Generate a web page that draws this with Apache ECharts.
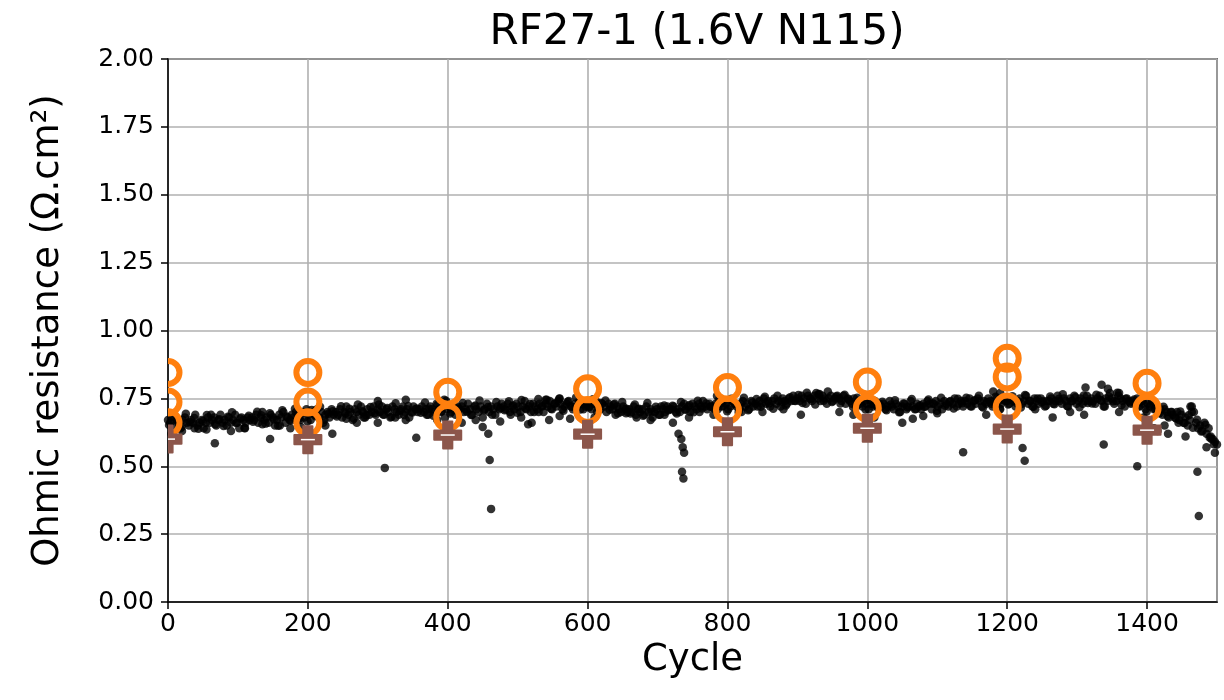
<!DOCTYPE html>
<html>
<head>
<meta charset="utf-8">
<script src="https://cdn.jsdelivr.net/npm/echarts@6/dist/echarts.min.js"></script>
<style>html,body{margin:0;padding:0;background:#fff}#c{width:1224px;height:700px}</style>
</head>
<body>
<div id="c"></div>
<script>
// ---------- DATA ----------
const titleText = 'RF27-1 (1.6V N115)';
const xTicks = [0, 200, 400, 600, 800, 1000, 1200, 1400];
const yTicks = ['0.00','0.25','0.50','0.75','1.00','1.25','1.50','1.75','2.00'];

// dense measurement band A: one value every 3 cycles, starting at cycle 0
const bandAStart = 0, bandAStep = 3;
const bandAValues = [
0.67,0.66,0.68,0.65,0.67,0.66,0.64,0.67,0.68,0.66,0.65,0.67,0.66,0.69,0.65,0.66,0.67,0.64,0.66,0.68,
0.66,0.67,0.68,0.65,0.67,0.69,0.66,0.67,0.65,0.68,0.66,0.67,0.69,0.66,0.64,0.68,0.67,0.66,0.68,0.67,
0.68,0.67,0.69,0.66,0.68,0.70,0.67,0.68,0.66,0.69,0.68,0.65,0.67,0.69,0.68,0.70,0.66,0.68,0.67,0.69,
0.68,0.70,0.69,0.67,0.70,0.68,0.71,0.69,0.67,0.70,0.69,0.71,0.68,0.70,0.66,0.69,0.70,0.68,0.71,0.69,
0.70,0.69,0.71,0.68,0.70,0.72,0.69,0.70,0.67,0.71,0.70,0.69,0.72,0.70,0.68,0.71,0.69,0.70,0.72,0.69,
0.71,0.70,0.72,0.69,0.71,0.70,0.68,0.72,0.71,0.70,0.69,0.71,0.72,0.70,0.71,0.68,0.70,0.72,0.71,0.70,
0.71,0.72,0.70,0.71,0.69,0.72,0.71,0.70,0.73,0.71,0.70,0.72,0.68,0.71,0.72,0.70,0.71,0.69,0.72,0.71,
0.72,0.70,0.71,0.73,0.71,0.69,0.72,0.71,0.70,0.72,0.68,0.71,0.73,0.70,0.72,0.71,0.69,0.72,0.71,0.73,
0.72,0.71,0.73,0.70,0.72,0.71,0.73,0.72,0.70,0.72,0.74,0.71,0.72,0.70,0.73,0.72,0.71,0.73,0.72,0.70,
0.73,0.72,0.74,0.71,0.73,0.72,0.74,0.73,0.71,0.72,0.73,0.74,0.72,0.71,0.73,0.72,0.74,0.73,0.71,0.72,
0.73,0.72,0.71,0.73,0.74,0.72,0.71,0.73,0.72,0.70,0.73,0.72,0.71,0.73,0.72,0.71,0.70,0.72,0.71,0.70,
0.71,0.70,0.72,0.69,0.71,0.70,0.71,0.69,0.72,0.70,0.71,0.68,0.70,0.71,0.69,0.72,0.71,0.70,0.72,0.71,
0.71,0.72,0.70,0.71,0.70,0.72,0.73,0.71,0.72,0.70,0.73,0.72,0.71,0.73,0.72,0.74,0.72,0.71,0.73,0.72,
0.72,0.73,0.71,0.73,0.72,0.74,0.73,0.71,0.72,0.74,0.73,0.72,0.70,0.73,0.74,0.72,0.73,0.71,0.74,0.72,
0.73,0.72,0.74,0.73,0.75,0.73,0.74,0.72,0.74,0.75,0.73,0.74,0.72,0.75,0.74,0.73,0.75,0.74,0.76,0.74,
0.75,0.74,0.76,0.75,0.73,0.76,0.75,0.74,0.76,0.77,0.75,0.74,0.76,0.75,0.73,0.75,0.76,0.74,0.75,0.76,
0.75,0.74,0.76,0.73,0.75,0.74,0.73,0.75,0.72,0.74,0.73,0.72,0.74,0.73,0.71,0.73,0.72,0.74,0.72,0.73,
0.72,0.73,0.71,0.72,0.74,0.72,0.71,0.73,0.72,0.70,0.72,0.73,0.71,0.72,0.74,0.72,0.71,0.73,0.72,0.71,
0.73,0.72,0.74,0.73,0.71,0.73,0.74,0.72,0.73,0.71,0.74,0.73,0.72,0.74,0.73,0.75,0.72,0.73,0.74,0.72,
0.74,0.73,0.75,0.72,0.74,0.73,0.75,0.74,0.72,0.74,0.73,0.75,0.74,0.72,0.73,0.75,0.74,0.73,0.75,0.74,
0.74,0.73,0.75,0.74,0.72,0.74,0.75,0.73,0.74,0.76,0.73,0.74,0.72,0.75,0.74,0.73,0.75,0.74,0.72,0.74,
0.74,0.75,0.73,0.74,0.76,0.74,0.73,0.75,0.74,0.72,0.75,0.74,0.76,0.73,0.74,0.75,0.73,0.74,0.76,0.74,
0.75,0.74,0.73,0.75,0.76,0.74,0.72,0.75,0.74,0.77,0.75,0.73,0.74,0.76,0.75,0.74,0.72,0.75,0.74,0.73,
0.74,0.73,0.75,0.72,0.74,0.73,0.71,0.73,0.72,0.74,0.71,0.72,0.70,0.71,0.69,0.71,0.70,0.68,0.70,0.69,
0.68,0.70,0.67,0.69,0.66,0.68,0.65,0.67,0.72,0.70,0.66,0.64,0.65,0.63,0.66,0.62,0.64,0.61,0.60,0.59,
0.58
];

// dense measurement band B: one value every 6 cycles, starting at cycle 1.5
const bandBStart = 1.5, bandBStep = 6;
const bandBValues = [
0.652,0.684,0.671,0.645,0.693,0.662,0.678,0.638,0.667,0.689,
0.690,0.655,0.673,0.648,0.682,0.699,0.659,0.676,0.641,0.686,
0.664,0.701,0.688,0.657,0.695,0.672,0.649,0.706,0.683,0.668,
0.712,0.676,0.698,0.665,0.707,0.684,0.719,0.671,0.693,0.703,
0.683,0.721,0.694,0.712,0.676,0.727,0.703,0.688,0.718,0.696,
0.727,0.691,0.715,0.682,0.732,0.704,0.689,0.722,0.698,0.713,
0.697,0.735,0.712,0.686,0.726,0.703,0.741,0.694,0.719,0.708,
0.733,0.701,0.689,0.724,0.742,0.706,0.718,0.690,0.737,0.715,
0.706,0.739,0.724,0.697,0.744,0.713,0.729,0.700,0.748,0.721,
0.745,0.712,0.731,0.749,0.704,0.738,0.719,0.753,0.709,0.728,
0.716,0.747,0.701,0.733,0.742,0.708,0.727,0.695,0.737,0.712,
0.694,0.727,0.712,0.686,0.733,0.701,0.719,0.690,0.724,0.706,
0.723,0.694,0.737,0.708,0.726,0.699,0.741,0.713,0.731,0.719,
0.711,0.744,0.722,0.703,0.749,0.728,0.714,0.752,0.706,0.735,
0.748,0.719,0.756,0.731,0.712,0.760,0.738,0.724,0.754,0.741,
0.762,0.733,0.771,0.748,0.727,0.766,0.741,0.775,0.737,0.757,
0.731,0.763,0.746,0.718,0.752,0.735,0.709,0.744,0.727,0.716,
0.738,0.706,0.727,0.743,0.699,0.731,0.716,0.748,0.711,0.725,
0.719,0.746,0.731,0.704,0.752,0.723,0.738,0.713,0.749,0.732,
0.752,0.721,0.743,0.760,0.716,0.737,0.729,0.756,0.712,0.745,
0.727,0.758,0.733,0.716,0.762,0.741,0.719,0.750,0.736,0.723,
0.757,0.728,0.748,0.765,0.722,0.739,0.754,0.717,0.761,0.733,
0.731,0.763,0.744,0.720,0.757,0.739,0.771,0.726,0.749,0.735,
0.746,0.721,0.739,0.702,0.728,0.711,0.695,0.719,0.684,0.700,
0.676,0.702,0.659,0.688,0.642,0.671,0.628,0.653,0.606,0.581
];

// scattered points away from the band [cycle, resistance]
const extraPoints = [
[5,0.62],[20,0.63],[38,0.64],[55,0.635],[67,0.585],[90,0.63],[110,0.64],[135,0.655],[146,0.60],[160,0.65],
[175,0.64],[190,0.645],[225,0.65],[235,0.62],[255,0.675],[270,0.66],[280,0.68],[300,0.66],[310,0.494],[325,0.68],
[340,0.67],[355,0.605],[370,0.69],[385,0.67],[395,0.62],[420,0.66],[440,0.67],[450,0.645],[458,0.62],[460,0.523],
[462,0.343],[475,0.665],[490,0.69],[505,0.68],[515,0.655],[520,0.66],[530,0.70],[545,0.67],[560,0.685],[575,0.675],
[610,0.68],[640,0.69],[655,0.695],[670,0.68],[690,0.67],[710,0.69],[722,0.66],[730,0.62],[734,0.60],[736,0.57],
[738,0.55],[735,0.48],[737,0.455],[745,0.68],[760,0.70],[780,0.69],[820,0.70],[850,0.70],[880,0.71],[905,0.69],
[960,0.70],[980,0.69],[1010,0.68],[1050,0.66],[1065,0.675],[1080,0.685],[1100,0.695],[1137,0.552],[1170,0.69],[1190,0.71],
[1222,0.567],[1225,0.52],[1240,0.71],[1265,0.68],[1290,0.70],[1310,0.69],[1338,0.58],[1360,0.70],[1386,0.50],[1395,0.68],
[1410,0.64],[1415,0.63],[1425,0.65],[1430,0.62],[1445,0.66],[1455,0.61],[1462,0.72],[1464,0.70],[1472,0.48],[1474,0.317],
[1485,0.57],[1492,0.60],[1497,0.55],
[300,0.74],[340,0.745],[395,0.745],[540,0.745],[560,0.75],[785,0.76],[930,0.765],[1180,0.775],[1190,0.77],[1312,0.79],
[1335,0.80],[1344,0.785],[1360,0.77]
];

// orange open circles
const circleCycles = [0,0,0,200,200,200,400,400,600,600,800,800,1000,1000,1200,1200,1200,1400,1400];
const circleValues = [0.845,0.737,0.66,0.845,0.737,0.66,0.773,0.68,0.785,0.705,0.79,0.707,0.81,0.714,0.898,0.829,0.718,0.806,0.714];

// brown plus markers
const plusCycles = [0,200,400,600,800,1000,1200,1400];
const plusValues = [0.60,0.598,0.615,0.618,0.627,0.64,0.637,0.633];

// ---------- CHART ----------
const bandData = bandAValues.map((v, i) => [bandAStart + i * bandAStep, v])
  .concat(bandBValues.map((v, i) => [bandBStart + i * bandBStep, v]));
const circleData = circleCycles.map((c, i) => [c, circleValues[i]]);
const plusData = plusCycles.map((c, i) => [c, plusValues[i]]);

const FONT = 'DejaVu Sans';
const DOT = {color: 'rgba(0,0,0,0.8)', opacity: 1};

function renderRing(params, api) {
  const p = api.coord([api.value(0), api.value(1)]);
  return {type: 'circle', shape: {cx: p[0], cy: p[1], r: 11.5},
          style: {fill: 'none', stroke: '#ff7f0e', lineWidth: 6}};
}
function renderPlus(params, api) {
  const p = api.coord([api.value(0), api.value(1)]);
  const h = 13.5, a = 4.6;
  const x = p[0], y = p[1];
  const pts = [[x-a,y-h],[x+a,y-h],[x+a,y-a],[x+h,y-a],[x+h,y+a],[x+a,y+a],[x+a,y+h],[x-a,y+h],[x-a,y+a],[x-h,y+a],[x-h,y-a],[x-a,y-a]];
  return {type: 'group', children: [
    {type: 'polygon', shape: {points: pts},
     style: {fill: '#8c564b', stroke: '#8c564b', lineWidth: 2, lineJoin: 'round'}},
    {type: 'rect', shape: {x: x - 7, y: y - 0.75, width: 14, height: 1.5}, style: {fill: '#ffffff'}}
  ]};
}

const chart = echarts.init(document.getElementById('c'), null, {renderer: 'canvas'});
chart.setOption({
  animation: false,
  backgroundColor: '#fff',
  title: {
    text: titleText, left: 692, textAlign: 'center', top: 7,
    textStyle: {fontFamily: FONT, fontSize: 42, fontWeight: 'normal', color: '#000'}
  },
  grid: {left: 168, right: 7, top: 59, bottom: 98, show: true, borderColor: '#000', borderWidth: 1.5, backgroundColor: 'transparent'},
  xAxis: {
    type: 'value', min: 0, max: 1500, interval: 200,
    name: 'Cycle', nameLocation: 'middle', nameGap: 36,
    nameTextStyle: {fontFamily: FONT, fontSize: 37, color: '#000'},
    axisLine: {show: true, lineStyle: {color: '#000', width: 1.5}},
    axisTick: {show: true, length: 7, lineStyle: {color: '#000', width: 1.5}},
    axisLabel: {fontFamily: FONT, fontSize: 25, color: '#000', margin: 10,
      showMaxLabel: false,
      formatter: v => xTicks.includes(v) ? String(v) : ''},
    splitLine: {show: true, lineStyle: {color: '#b0b0b0', width: 1.6}}
  },
  yAxis: {
    type: 'value', min: 0, max: 2, interval: 0.25,
    name: 'Ohmic resistance (Ω.cm²)', nameLocation: 'middle', nameGap: 101,
    nameTextStyle: {fontFamily: FONT, fontSize: 37, color: '#000'},
    axisLine: {show: true, lineStyle: {color: '#000', width: 1.5}},
    axisTick: {show: true, length: 7, lineStyle: {color: '#000', width: 1.5}},
    axisLabel: {fontFamily: FONT, fontSize: 25, color: '#000', margin: 14,
      formatter: v => yTicks[Math.round(v / 0.25)]},
    splitLine: {show: true, lineStyle: {color: '#b0b0b0', width: 1.6}}
  },
  series: [
    {type: 'scatter', data: bandData, symbol: 'circle', symbolSize: 8.5,
     itemStyle: DOT, silent: true, z: 2},
    {type: 'scatter', data: extraPoints, symbol: 'circle', symbolSize: 8.5,
     itemStyle: DOT, silent: true, z: 2},
    {type: 'custom', data: circleData, renderItem: renderRing, encode: {x: 0, y: 1},
     clip: true, silent: true, z: 3},
    {type: 'custom', data: plusData, renderItem: renderPlus, encode: {x: 0, y: 1},
     clip: true, silent: true, z: 4}
  ]
});
</script>
</body>
</html>
